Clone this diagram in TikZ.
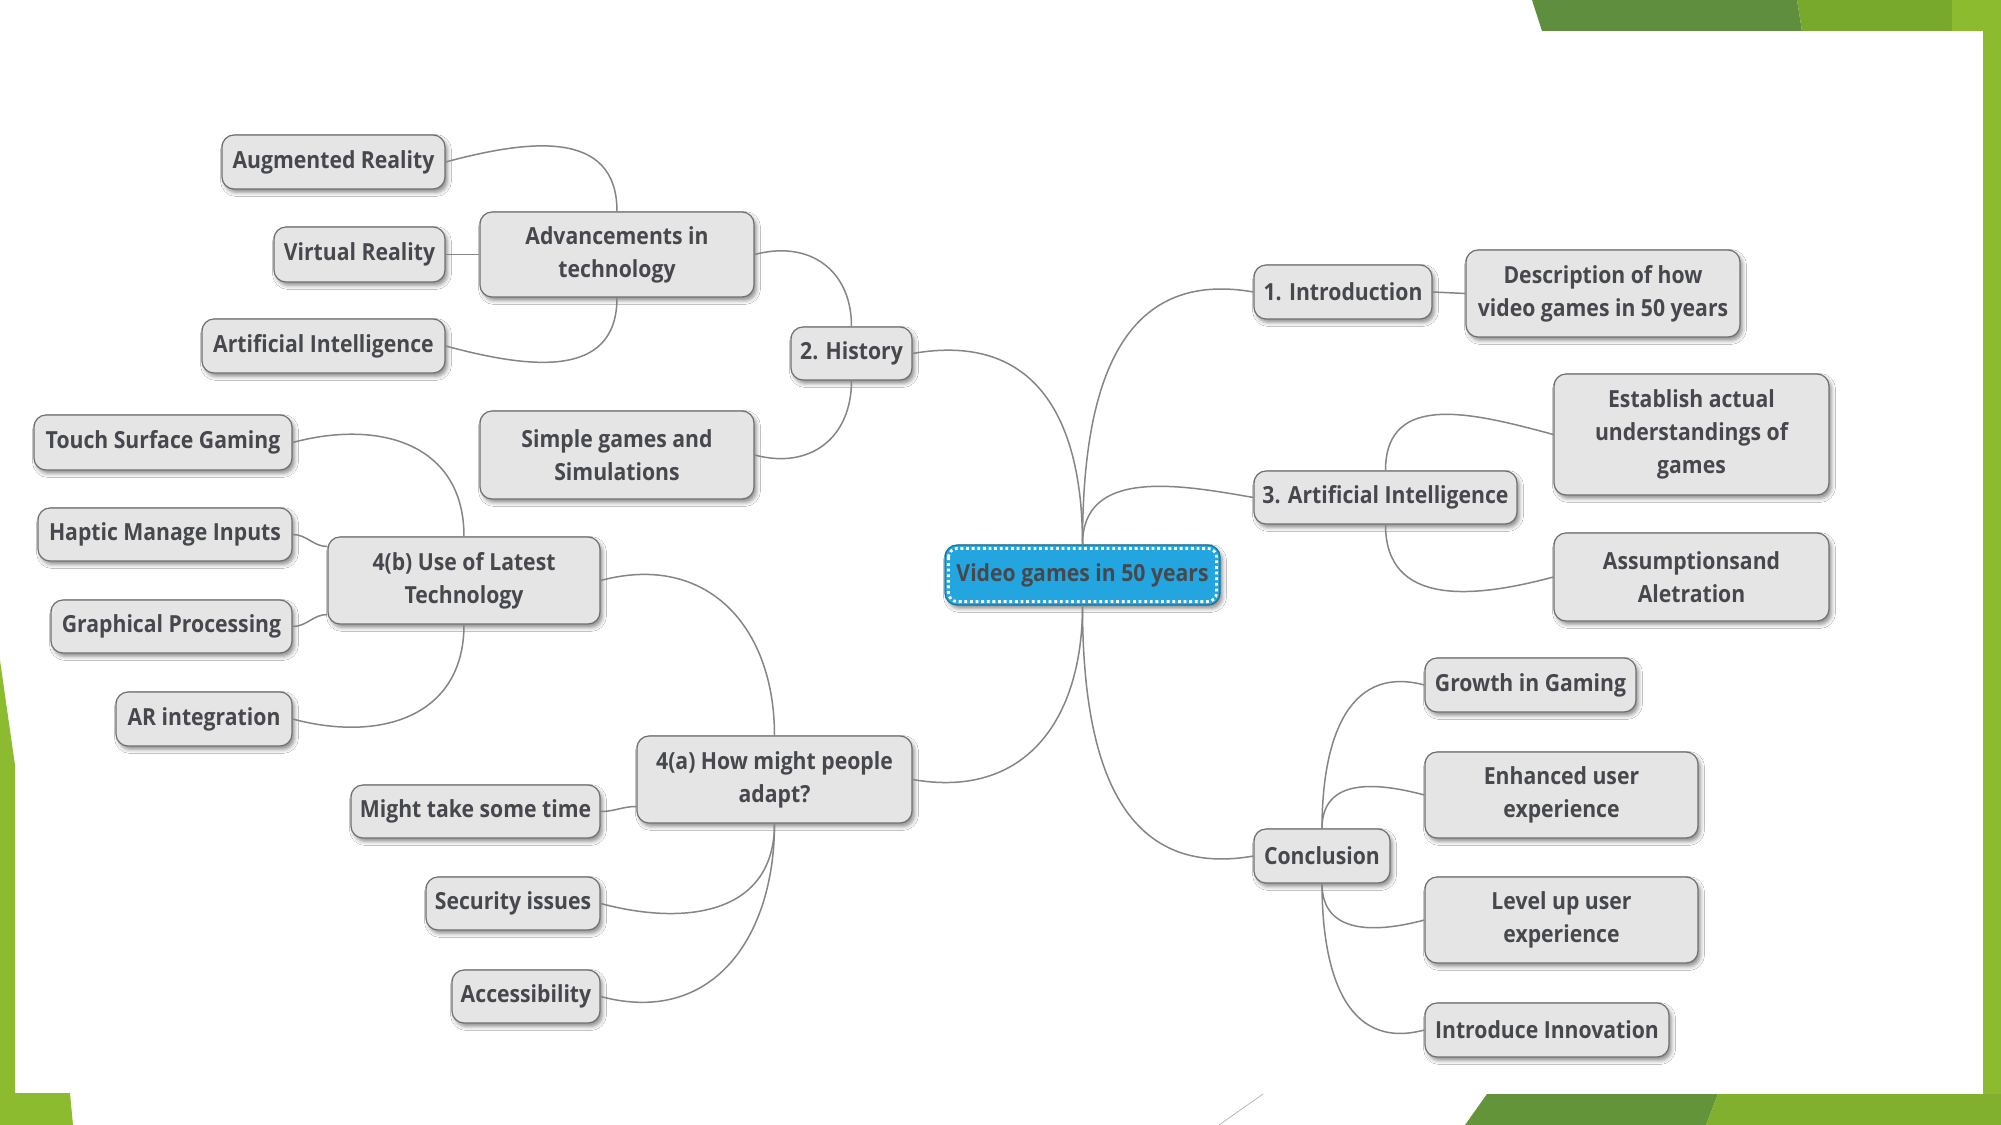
\documentclass[tikz,border=0pt]{standalone}
\usepackage{fontspec}
\setmainfont{Open Sans}[FakeStretch=0.90]
\usetikzlibrary{shadows.blur}
\definecolor{txtgray}{HTML}{47484D}
\definecolor{boxfill}{HTML}{E5E5E5}
\definecolor{boxline}{HTML}{707070}
\definecolor{linegray}{HTML}{858585}
\definecolor{cblue}{HTML}{23A6DF}
\definecolor{gA}{HTML}{8CBB30}
\definecolor{gB}{HTML}{5F8F3E}
\definecolor{gC}{HTML}{78A82C}
\begin{document}
\begin{tikzpicture}[x=0.02cm,y=-0.02cm,
  mmbox/.style 2 args={draw=boxline, line width=0.7pt, fill=boxfill, rounded corners=0.24cm,
    minimum width=#1*0.02cm, minimum height=#2*0.02cm, inner sep=0pt, align=center,
    text=txtgray, font=\fontsize{13.4pt}{18.8pt}\selectfont\bfseries,
    blur shadow={shadow xshift=0.05cm, shadow yshift=-0.07cm, shadow blur radius=0.08cm, shadow opacity=45}},
  rootbox/.style={mmbox={275}{60}, fill=cblue, draw=cblue!70!black, text=txtgray},
  conn/.style={draw=linegray, line width=0.85pt}
]
\useasboundingbox (0,0) rectangle (2001,1125);
% frame decoration
\fill[white] (0,0) rectangle (2001,1125);
\fill[gB] (1532,0) -- (1797,0) -- (1802,31) -- (1542,31) -- cycle;
\fill[gC] (1797,0) -- (1952,0) -- (1952,31) -- (1802,31) -- cycle;
\fill[gA] (1952,0) -- (2001,0) -- (2001,31) -- (1952,31) -- cycle;
\fill[gA] (1983,0) rectangle (2001,1125);
\fill[gB!80!gC] (1487,1094) -- (1718,1094) -- (1706,1125) -- (1465,1125) -- cycle;
\fill[gC!60!gA] (1718,1094) -- (2001,1094) -- (2001,1125) -- (1706,1125) -- cycle;
\fill[gA] (0,660) -- (15,765) -- (15,1093) -- (70,1093) -- (73,1125) -- (0,1125) -- cycle;
\draw[gray!60, line width=0.4pt] (1263,1094) -- (1219,1125);

% nodes
\node[rootbox] (c) at (1082.5,575) {Video games in 50 years};
\draw[white, line width=1.6pt, dash pattern=on 1.6pt off 1.6pt, rounded corners=0.18cm]
  ([shift={(4,4)}]c.north west) rectangle ([shift={(-4,-4)}]c.south east);

\node[mmbox={223}{54}] (ar) at (333.5,162) {Augmented Reality};
\node[mmbox={274}{85}] (adv) at (617,254.5) {Advancements in\\technology};
\node[mmbox={171}{55}] (vr) at (359.5,254.5) {Virtual Reality};
\node[mmbox={243}{54}] (ail) at (323.5,346) {Artificial Intelligence};
\node[mmbox={121}{53}] (hist) at (851.5,353.5) {2. History};
\node[mmbox={274}{88}] (simp) at (617,455) {Simple games and\\Simulations};
\node[mmbox={258}{55}] (touch) at (163,442.5) {Touch Surface Gaming};
\node[mmbox={254}{53}] (hap) at (165,534.5) {Haptic Manage Inputs};
\node[mmbox={272}{87}] (b4) at (464,580.5) {4(b) Use of Latest\\Technology};
\node[mmbox={241}{53}] (graph) at (171.5,626.5) {Graphical Processing};
\node[mmbox={176}{54}] (ari) at (204,719) {AR integration};
\node[mmbox={275}{87}] (a4) at (774.5,779.5) {4(a) How might people\\adapt?};
\node[mmbox={249}{53}] (might) at (475.5,811.5) {Might take some time};
\node[mmbox={174}{53}] (sec) at (513,903.5) {Security issues};
\node[mmbox={148}{53}] (acc) at (526,996.5) {Accessibility};
\node[mmbox={178}{54}] (intro) at (1343,292) {1. Introduction};
\node[mmbox={274}{87}] (desc) at (1603,293.5) {Description of how\\video games in 50 years};
\node[mmbox={275}{121}] (est) at (1691.5,434.5) {Establish actual\\understandings of\\games};
\node[mmbox={263}{53}] (ai3) at (1385.5,497.5) {3. Artificial Intelligence};
\node[mmbox={275}{88}] (asm) at (1691.5,577) {Assumptionsand\\Aletration};
\node[mmbox={211}{54}] (grow) at (1530.5,685) {Growth in Gaming};
\node[mmbox={273}{86}] (enh) at (1561.5,795) {Enhanced user\\experience};
\node[mmbox={136}{54}] (conc) at (1322,856) {Conclusion};
\node[mmbox={273}{86}] (lvl) at (1561.5,920) {Level up user\\experience};
\node[mmbox={244}{54}] (innov) at (1547,1030) {Introduce Innovation};

% connectors
\draw[conn] (c.north) to[out=90,in=10,looseness=1.25] (hist.east);
\draw[conn] (c.north) to[out=90,in=170,looseness=1.2] (intro.west);
\draw[conn] (c.north) to[out=90,in=170,looseness=1.1] (ai3.west);
\draw[conn] (c.south) to[out=-90,in=190,looseness=1.2] (conc.west);
\draw[conn] (c.south) to[out=-90,in=-10,looseness=1.2] (a4.east);
\draw[conn] (hist.north) to[out=90,in=15,looseness=1.2] (adv.east);
\draw[conn] (hist.south) to[out=-90,in=-15,looseness=1.2] (simp.east);
\draw[conn] (adv.north) to[out=90,in=15,looseness=1.2] (ar.east);
\draw[conn] (adv.west) -- (vr.east);
\draw[conn] (adv.south) to[out=-90,in=-15,looseness=1.2] (ail.east);
\draw[conn] (b4.north) to[out=90,in=15,looseness=1.2] (touch.east);
\draw[conn] (hap.east) to[out=0,in=180] ([shift={(0,-34)}]b4.west);
\draw[conn] (graph.east) to[out=0,in=180] ([shift={(0,34)}]b4.west);
\draw[conn] (b4.south) to[out=-90,in=-15,looseness=1.2] (ari.east);
\draw[conn] (a4.north) to[out=90,in=15,looseness=1.2] (b4.east);
\draw[conn] (might.east) to[out=0,in=180] ([shift={(0,27)}]a4.west);
\draw[conn] (a4.south) to[out=-90,in=-15,looseness=1.2] (sec.east);
\draw[conn] (a4.south) to[out=-90,in=-15,looseness=1.2] (acc.east);
\draw[conn] (intro.east) -- (desc.west);
\draw[conn] (ai3.north) to[out=90,in=165,looseness=1.2] (est.west);
\draw[conn] (ai3.south) to[out=-90,in=195,looseness=1.2] (asm.west);
\draw[conn] (conc.north) to[out=90,in=165,looseness=1.2] (grow.west);
\draw[conn] (conc.north) to[out=90,in=165,looseness=1.2] (enh.west);
\draw[conn] (conc.south) to[out=-90,in=195,looseness=1.2] (lvl.west);
\draw[conn] (conc.south) to[out=-90,in=195,looseness=1.2] (innov.west);
\end{tikzpicture}
\end{document}
